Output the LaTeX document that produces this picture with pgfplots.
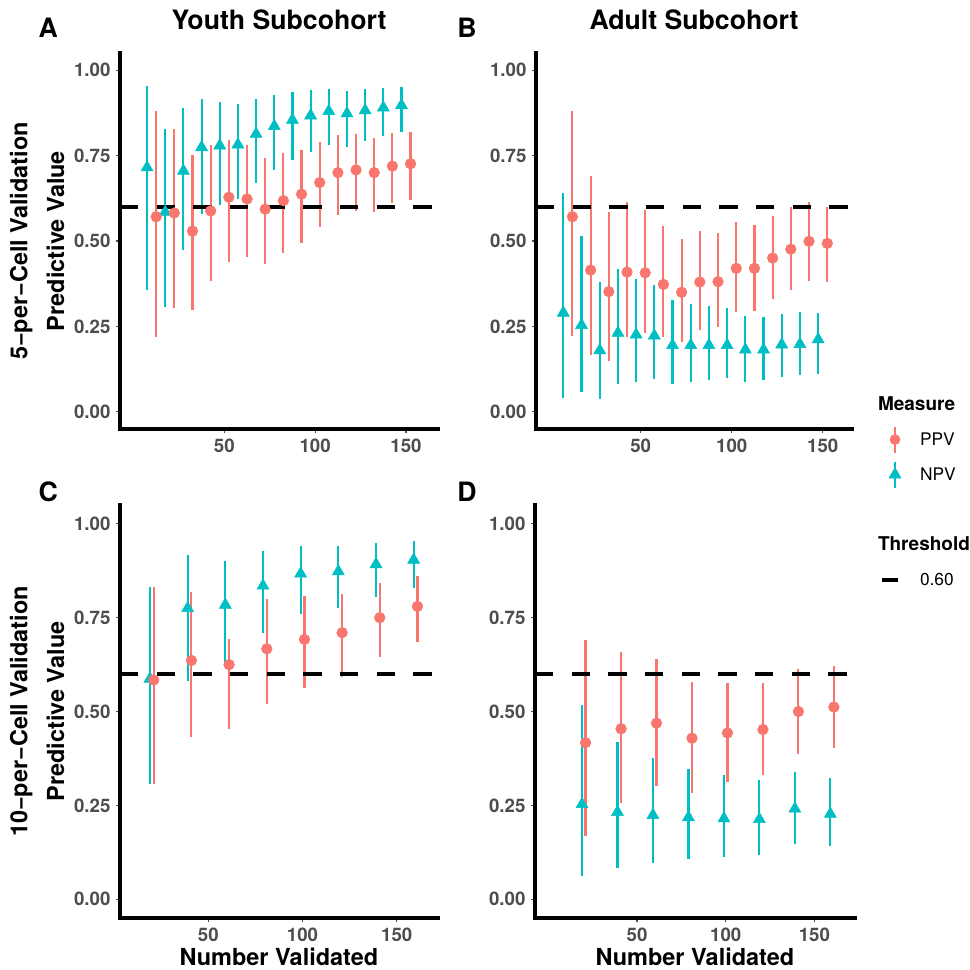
\documentclass[border=0pt]{standalone}
\usepackage{fontspec}
\setmainfont{TeX Gyre Heros}
\usepackage{pgfplots}
\usepackage{pgfplotstable}
\pgfplotsset{compat=1.18}

\definecolor{ppvcol}{HTML}{F8766D}
\definecolor{npvcol}{HTML}{00BFC4}
\definecolor{tickgray}{HTML}{4D4D4D}

% columns: x (dodged), estimate, lower, upper
\pgfplotstableread{
x y lo hi
7.5 0.715 0.356 0.954
17.5 0.585 0.307 0.829
27.5 0.705 0.473 0.888
37.5 0.774 0.580 0.915
47.5 0.779 0.605 0.908
57.5 0.782 0.624 0.902
67.5 0.813 0.670 0.915
77.5 0.836 0.707 0.927
87.5 0.854 0.737 0.935
97.5 0.867 0.761 0.941
107.5 0.880 0.780 0.946
117.5 0.873 0.776 0.940
127.5 0.882 0.792 0.944
137.5 0.890 0.806 0.948
147.5 0.897 0.818 0.951
}\tAnpv
\pgfplotstableread{
x y lo hi
12.5 0.571 0.220 0.880
22.5 0.582 0.305 0.829
32.5 0.529 0.298 0.751
42.5 0.588 0.382 0.780
52.5 0.628 0.440 0.795
62.5 0.623 0.452 0.780
72.5 0.593 0.432 0.743
82.5 0.618 0.466 0.756
92.5 0.637 0.495 0.766
102.5 0.671 0.540 0.790
112.5 0.700 0.576 0.810
122.5 0.708 0.589 0.813
132.5 0.700 0.585 0.802
142.5 0.719 0.612 0.817
152.5 0.726 0.621 0.819
}\tAppv
\pgfplotstableread{
x y lo hi
7.5 0.290 0.042 0.639
17.5 0.254 0.059 0.515
27.5 0.180 0.039 0.380
37.5 0.231 0.081 0.417
47.5 0.226 0.088 0.390
57.5 0.223 0.095 0.371
67.5 0.195 0.081 0.327
77.5 0.195 0.087 0.317
87.5 0.195 0.093 0.311
97.5 0.195 0.098 0.305
107.5 0.182 0.088 0.280
117.5 0.182 0.093 0.278
127.5 0.197 0.102 0.286
137.5 0.198 0.109 0.293
147.5 0.212 0.112 0.290
}\tBnpv
\pgfplotstableread{
x y lo hi
12.5 0.571 0.221 0.880
22.5 0.415 0.166 0.690
32.5 0.352 0.149 0.584
42.5 0.409 0.218 0.614
52.5 0.407 0.231 0.592
62.5 0.373 0.218 0.544
72.5 0.350 0.205 0.507
82.5 0.380 0.239 0.529
92.5 0.381 0.249 0.522
102.5 0.420 0.291 0.556
112.5 0.420 0.296 0.548
122.5 0.450 0.329 0.574
132.5 0.476 0.358 0.600
142.5 0.499 0.383 0.613
152.5 0.493 0.380 0.600
}\tBppv
\pgfplotstableread{
x y lo hi
19 0.587 0.308 0.831
39 0.775 0.581 0.917
59 0.784 0.621 0.902
79 0.835 0.708 0.928
99 0.867 0.761 0.941
119 0.873 0.777 0.940
139 0.892 0.806 0.948
159 0.904 0.830 0.955
}\tCnpv
\pgfplotstableread{
x y lo hi
21 0.584 0.308 0.831
41 0.636 0.431 0.818
61 0.625 0.454 0.693
81 0.667 0.520 0.799
101 0.692 0.562 0.808
121 0.710 0.591 0.813
141 0.750 0.644 0.842
161 0.780 0.685 0.861
}\tCppv
\pgfplotstableread{
x y lo hi
19 0.253 0.061 0.517
39 0.232 0.084 0.419
59 0.224 0.097 0.375
79 0.218 0.107 0.348
99 0.215 0.113 0.331
119 0.213 0.119 0.317
139 0.241 0.147 0.340
159 0.227 0.141 0.322
}\tDnpv
\pgfplotstableread{
x y lo hi
21 0.417 0.168 0.691
41 0.454 0.257 0.658
61 0.469 0.302 0.639
81 0.429 0.284 0.578
101 0.443 0.311 0.577
121 0.452 0.331 0.575
141 0.500 0.386 0.612
161 0.512 0.404 0.620
}\tDppv

\pgfplotsset{
  panel/.style={
    scale only axis,
    axis lines=left,
    axis line style={-, line width=2.5pt, line cap=rect, black},
    every outer x axis line/.append style={-},
    every outer y axis line/.append style={-},
    ymin=-0.05, ymax=1.05,
    ytick={0,0.25,0.5,0.75,1},
    xtick={50,100,150},
    minor tick num=0,
    tick align=outside,
    major tick length=3pt,
    major tick style={line width=0.8pt, tickgray},
    /pgf/number format/assume math mode=true,
    tick label style={font=\fontsize{14}{16}\selectfont\bfseries, text=tickgray, inner sep=0pt},
    yticklabel style={/pgf/number format/.cd, fixed, fixed zerofill, precision=2},
    ticklabel shift=4pt,
    title style={at={(axis description cs:0.5,1)}, anchor=base, yshift=11.8pt,
      font=\fontsize{20}{24}\selectfont\bfseries},
    ylabel style={anchor=center, align=center,
      font=\fontsize{17.6}{27.5}\selectfont\bfseries},
    xlabel style={at={(axis description cs:0.5,0)}, anchor=base, yshift=-35.8pt,
      inner sep=0pt, font=\fontsize{17.6}{20}\selectfont\bfseries},
  },
  ppv/.style={only marks, mark=*, mark size=4pt, color=ppvcol,
    mark options={solid, fill=ppvcol, draw=ppvcol}, forget plot,
    /pgfplots/error bars/y dir=both, /pgfplots/error bars/y explicit,
    /pgfplots/error bars/error mark=none,
    /pgfplots/error bars/error bar style={line width=1.6pt, ppvcol, solid}},
  npv/.style={only marks, mark=triangle*, mark size=5.2pt, color=npvcol,
    mark options={solid, fill=npvcol, draw=npvcol}, forget plot,
    /pgfplots/error bars/y dir=both, /pgfplots/error bars/y explicit,
    /pgfplots/error bars/error mark=none,
    /pgfplots/error bars/error bar style={line width=1.6pt, npvcol, solid}},
  thr/.style={black, line width=3pt, dash pattern=on 13.75pt off 13.75pt, forget plot},
}

\newcommand{\pr}[2]{\addplot[#1] table[x=x, y=y,
  y error plus expr=\thisrow{hi}-\thisrow{y},
  y error minus expr=\thisrow{y}-\thisrow{lo}] {#2};}

\begin{document}
\begin{tikzpicture}
\useasboundingbox (0pt,0pt) rectangle (727.5pt,-727.5pt);

% Panel A
\begin{axis}[panel, at={(90pt,-321.75pt)}, anchor=south west,
  width=238.5pt, height=282pt, xmin=-7.4, xmax=167.6,
  title={Youth Subcohort},
  ylabel={5−per−Cell Validation\\Predictive Value},
  ylabel style={at={(axis description cs:-0.2604,0.5)}}]
\pr{npv}{\tAnpv}
\pr{ppv}{\tAppv}
\addplot[thr] coordinates {(-7.4,0.6) (167.6,0.6)};
\end{axis}

% Panel B
\begin{axis}[panel, at={(402pt,-321.75pt)}, anchor=south west,
  width=237pt, height=282pt, xmin=-7.5, xmax=166.1,
  title={Adult Subcohort},
  legend style={at={(axis description cs:1.0823,0.0838)}, anchor=north west,
    draw=none, fill=none, inner sep=0pt, outer sep=0pt,
    row sep=13.25pt, column sep=0pt,
    nodes={inner sep=0pt, text height=10pt, text depth=3pt},
    font=\fontsize{13}{15}\selectfont},
  legend cell align=left]
\pr{npv}{\tBnpv}
\pr{ppv}{\tBppv}
\addplot[thr] coordinates {(-7.5,0.6) (166.1,0.6)};
\addlegendimage{empty legend}
\addlegendentry{\hspace*{-31.5pt}\fontsize{14.25}{16}\selectfont\bfseries Measure}
\addlegendimage{legend image code/.code={
  \draw[overlay, draw=ppvcol, line width=1.6pt] (12.75pt,-8.55pt) -- (12.75pt,10.95pt);
  \path[draw=none, fill=ppvcol] (12.75pt,1.2pt) circle (4pt);
  \path[draw=none, fill=none] (0pt,0pt) -- (31.5pt,0pt);}}
\addlegendentry{PPV}
\addlegendimage{legend image code/.code={
  \draw[overlay, draw=npvcol, line width=1.6pt] (12.75pt,-8.55pt) -- (12.75pt,10.95pt);
  \path[draw=none, fill=none] plot[mark=triangle*, mark size=5.2pt, mark options={solid, draw=npvcol, fill=npvcol}] coordinates {(12.75pt,1.2pt)};
  \path[draw=none, fill=none] (0pt,0pt) -- (31.5pt,0pt);}}
\addlegendentry{NPV}
\addlegendimage{empty legend}
\addlegendentry{}
\addlegendimage{empty legend}
\addlegendentry{\hspace*{-31.5pt}\fontsize{14.25}{16}\selectfont\bfseries Threshold}
\addlegendimage{legend image code/.code={
  \draw[draw=black, line width=3pt] (3pt,1.2pt) -- (15pt,1.2pt);
  \path[draw=none, fill=none] (0pt,0pt) -- (31.5pt,0pt);}}
\addlegendentry{0.60}
\end{axis}

% Panel C
\begin{axis}[panel, at={(90pt,-688.5pt)}, anchor=south west,
  width=238.5pt, height=309.75pt, xmin=3.1, xmax=171.9,
  ylabel={10−per−Cell Validation\\Predictive Value},
  ylabel style={at={(axis description cs:-0.2604,0.5)}},
  xlabel={Number Validated}]
\pr{npv}{\tCnpv}
\pr{ppv}{\tCppv}
\addplot[thr] coordinates {(3.1,0.6) (171.9,0.6)};
\end{axis}

% Panel D
\begin{axis}[panel, at={(401.25pt,-688.5pt)}, anchor=south west,
  width=240pt, height=309.75pt, xmin=-7.5, xmax=172.9,
  xlabel={Number Validated}]
\pr{npv}{\tDnpv}
\pr{ppv}{\tDppv}
\addplot[thr] coordinates {(-7.5,0.6) (172.9,0.6)};
\end{axis}

% panel tags
\node[anchor=base west, inner sep=0pt, font=\fontsize{20}{24}\selectfont\bfseries] at (28.7pt,-28pt) {A};
\node[anchor=base west, inner sep=0pt, font=\fontsize{20}{24}\selectfont\bfseries] at (342.75pt,-28pt) {B};
\node[anchor=base west, inner sep=0pt, font=\fontsize{20}{24}\selectfont\bfseries] at (28.7pt,-375.75pt) {C};
\node[anchor=base west, inner sep=0pt, font=\fontsize{20}{24}\selectfont\bfseries] at (342.75pt,-375.75pt) {D};
\end{tikzpicture}
\end{document}
